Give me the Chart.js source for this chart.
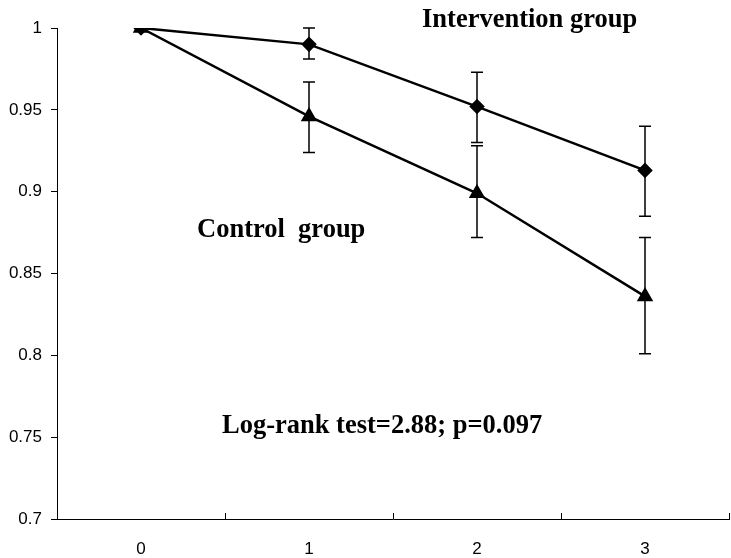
<!DOCTYPE html>
<html>
<head>
<meta charset="utf-8">
<script src="https://cdn.jsdelivr.net/npm/chart.js@4.4.1/dist/chart.umd.min.js"></script>
<style>
  html, body { margin: 0; padding: 0; background: #fff; overflow: hidden; }
  #wrap { width: 731px; height: 558px; position: relative; }
  canvas { display: block; }
</style>
</head>
<body>
<div id="wrap"><canvas id="survChart"></canvas></div>
<script>
// ================== Data ==================
const years = ["0", "1", "2", "3"];

const interventionMean = [1.0, 0.990, 0.952, 0.913];
const interventionUpper = [1.0, 1.0, 0.973, 0.940];
const interventionLower = [1.0, 0.981, 0.930, 0.885];

const controlMean = [1.0, 0.946, 0.899, 0.836];
const controlUpper = [1.0, 0.967, 0.928, 0.872];
const controlLower = [1.0, 0.924, 0.872, 0.801];

const yTicks = [0.7, 0.75, 0.8, 0.85, 0.9, 0.95, 1];

// ================== Plugins ==================
// error bars with caps, drawn through the scales
const errorBars = {
  id: "errorBars",
  afterDatasetsDraw(chart) {
    const { ctx, scales } = chart;
    const sets = [
      [interventionUpper, interventionLower],
      [controlUpper, controlLower],
    ];
    ctx.save();
    ctx.strokeStyle = "#000";
    ctx.lineWidth = 1.5;
    sets.forEach(([up, lo]) => {
      years.forEach((lab, i) => {
        if (up[i] === lo[i]) return;
        const x = scales.x.getPixelForValue(i);
        const yTop = scales.y.getPixelForValue(up[i]);
        const yBot = scales.y.getPixelForValue(lo[i]);
        ctx.beginPath();
        ctx.moveTo(x, yTop);
        ctx.lineTo(x, yBot);
        ctx.moveTo(x - 6, yTop);
        ctx.lineTo(x + 6, yTop);
        ctx.moveTo(x - 6, yBot);
        ctx.lineTo(x + 6, yBot);
        ctx.stroke();
      });
    });
    ctx.restore();
  },
};

// inner tick marks between categories + text labels
const extras = {
  id: "extras",
  afterDraw(chart) {
    const { ctx, scales, chartArea } = chart;
    const xs = scales.x;
    const half = (xs.getPixelForValue(1) - xs.getPixelForValue(0)) / 2;
    ctx.save();
    ctx.strokeStyle = "#000";
    ctx.lineWidth = 1;
    for (let i = 0; i < years.length; i++) {
      const x = Math.round(xs.getPixelForValue(i) + half) + 0.5;
      ctx.beginPath();
      ctx.moveTo(x, chartArea.bottom);
      ctx.lineTo(x, chartArea.bottom - 6);
      ctx.stroke();
    }

    ctx.fillStyle = "#000";
    ctx.font = "bold 26.5px 'Liberation Serif', 'Times New Roman', serif";
    ctx.textBaseline = "alphabetic";
    ctx.textAlign = "left";
    ctx.fillText("Intervention group", 422, 27);
    ctx.fillText("Control  group", 197, 237);
    ctx.fillText("Log-rank test=2.88; p=0.097", 222, 433);
    ctx.restore();
  },
};

// ================== Chart ==================
const ctx = document.getElementById("survChart").getContext("2d");
const survChart = new Chart(ctx, {
  type: "line",
  data: {
    labels: years,
    datasets: [
      {
        label: "Intervention group",
        data: interventionMean,
        borderColor: "#000",
        backgroundColor: "#000",
        borderWidth: 2.5,
        pointStyle: "rectRot",
        pointRadius: 6,
        tension: 0,
      },
      {
        label: "Control group",
        data: controlMean,
        borderColor: "#000",
        backgroundColor: "#000",
        borderWidth: 2.5,
        pointStyle: "triangle",
        pointRadius: 7,
        tension: 0,
      },
    ],
  },
  options: {
    responsive: true,
    maintainAspectRatio: false,
    animation: false,
    layout: { autoPadding: false, padding: { top: 28, right: 2, left: 0, bottom: 0 } },
    plugins: {
      legend: { display: false },
      tooltip: { enabled: false },
    },
    scales: {
      x: {
        type: "category",
        offset: true,
        grid: { display: true, drawOnChartArea: false, drawTicks: false, offset: true },
        border: { display: true, color: "#000", width: 1 },
        ticks: {
          color: "#000",
          padding: 20,
          font: { family: "'Liberation Sans', Arial, sans-serif", size: 17 },
        },
        afterFit: (s) => { s.height = 39; },
      },
      y: {
        min: 0.7,
        max: 1,
        afterBuildTicks: (s) => { s.ticks = yTicks.map((v) => ({ value: v })); },
        grid: { drawOnChartArea: false, drawTicks: true, tickLength: 6, color: "#000" },
        border: { display: true, color: "#000", width: 1 },
        ticks: {
          color: "#000",
          padding: 9,
          font: { family: "'Liberation Sans', Arial, sans-serif", size: 17 },
          callback: (v) => String(Math.round(v * 100) / 100),
        },
        afterFit: (s) => { s.width = 57; },
      },
    },
  },
  plugins: [errorBars, extras],
});
</script>
</body>
</html>
